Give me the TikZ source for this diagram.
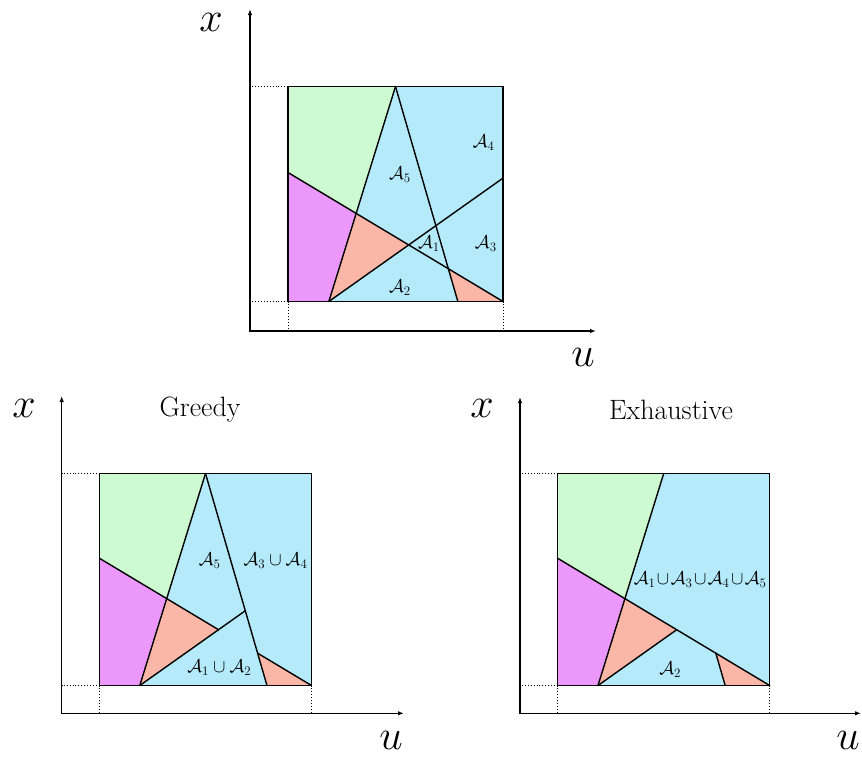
\RequirePackage{fix-cm}
\documentclass[tikz,border=0pt]{standalone}
\usetikzlibrary{arrows.meta}
\definecolor{regblue}{RGB}{180,234,250}
\definecolor{reggreen}{RGB}{206,250,210}
\definecolor{regmag}{RGB}{235,152,250}
\definecolor{regsalmon}{RGB}{250,182,166}
\tikzset{
  axisline/.style={line width=1.5pt, {Latex[length=6pt,width=4.5pt]}-{Latex[length=6pt,width=4.5pt]}},
  guide/.style={dotted, line width=0.9pt},
  cut/.style={line width=1.4pt, line cap=round},
  frame/.style={line width=1.5pt},
  axlabel/.style={font=\fontsize{42}{48}\selectfont, inner sep=0pt},
  paneltitle/.style={font=\fontsize{28}{32}\selectfont, inner sep=0pt},
  region/.style={font=\fontsize{18.5}{22}\selectfont, inner sep=0pt},
}
\newcommand{\mkpanel}[1]{%
  \coordinate (#1O) at (0,0);
  \coordinate (#1TL) at (0,1);
  \coordinate (#1TR) at (1,1);
  \coordinate (#1BR) at (1,0);
  \coordinate (#1A) at (0,0.6);
  \coordinate (#1T) at (0.5,1);
  \coordinate (#1C) at (0.19,0);
  \coordinate (#1D) at (0.79,0);
  \coordinate (#1E) at (1,0.574);
  \coordinate (#1P) at (0.317,0.410);
  \coordinate (#1Q) at (0.5614,0.2632);
  \coordinate (#1R) at (0.7458,0.1525);
  \coordinate (#1S) at (0.6877,0.3527);
  \fill[regblue] (#1O) rectangle (#1TR);
  \fill[reggreen] (#1TL) -- (#1T) -- (#1P) -- (#1A) -- cycle;
  \fill[regmag] (#1A) -- (#1P) -- (#1C) -- (#1O) -- cycle;
  \fill[regsalmon] (#1P) -- (#1Q) -- (#1C) -- cycle;
  \fill[regsalmon] (#1R) -- (#1BR) -- (#1D) -- cycle;
}
\begin{document}
\begin{tikzpicture}[x=1pt,y=-1pt]
\useasboundingbox (0,0) rectangle (862,756);

% ---------------- top panel ----------------
\begin{scope}[shift={(288pt,-301.5pt)}, x={(215pt,0pt)}, y={(0pt,215pt)}]
  \mkpanel{t}
  \draw[cut] (tA) -- (tBR);
  \draw[cut] (tT) -- (tC);
  \draw[cut] (tT) -- (tD);
  \draw[cut] (tC) -- (tE);
  \draw[frame] (tO) rectangle (tTR);
  \node[region] (tl5) at (0.52,0.59) {$\mathcal{A}_5$};
  \node[region] (tl4) at (0.91,0.74) {$\mathcal{A}_4$};
  \node[region] (tl1) at (0.655,0.27) {$\mathcal{A}_1$};
  \node[region] (tl3) at (0.92,0.27) {$\mathcal{A}_3$};
  \node[region] (tl2) at (0.52,0.065) {$\mathcal{A}_2$};
\end{scope}
\coordinate (tOrig) at (250,331);
\coordinate (tYtip) at (250,9);
\coordinate (tXtip) at (596,331);
\draw[guide] (tTL) -- (tTL -| tOrig);
\draw[guide] (tO) -- (tO -| tOrig);
\draw[guide] (tO) -- (tO |- tOrig);
\draw[guide] (tBR) -- (tBR |- tOrig);
\draw[axisline] (tYtip) -- (tOrig) -- (tXtip);
\node[axlabel] (tx) at (211,22) {$x$};
\node[axlabel] (tu) at (583,357) {$u$};

% ---------------- greedy panel ----------------
\begin{scope}[shift={(99.5pt,-685.5pt)}, x={(212pt,0pt)}, y={(0pt,212pt)}]
  \mkpanel{g}
  \draw[cut] (gA) -- (gQ);
  \draw[cut] (gR) -- (gBR);
  \draw[cut] (gT) -- (gC);
  \draw[cut] (gT) -- (gD);
  \draw[cut] (gC) -- (gS);
  \draw[frame] (gO) rectangle (gTR);
  \node[region] (gl5) at (0.52,0.59) {$\mathcal{A}_5$};
  \node[region] (gl34) at (0.83,0.59) {$\mathcal{A}_3\cup\mathcal{A}_4$};
  \node[region] (gl12) at (0.565,0.085) {$\mathcal{A}_1\cup\mathcal{A}_2$};
\end{scope}
\coordinate (gOrig) at (61.7,713.3);
\coordinate (gYtip) at (61.7,396);
\coordinate (gXtip) at (404,713.3);
\draw[guide] (gTL) -- (gTL -| gOrig);
\draw[guide] (gO) -- (gO -| gOrig);
\draw[guide] (gO) -- (gO |- gOrig);
\draw[guide] (gBR) -- (gBR |- gOrig);
\draw[axisline] (gYtip) -- (gOrig) -- (gXtip);
\node[axlabel] (gx) at (24,408) {$x$};
\node[axlabel] (gu) at (391,740) {$u$};
\node[paneltitle] (gtitle) at (200,410) {Greedy};

% ---------------- exhaustive panel ----------------
\begin{scope}[shift={(557.7pt,-685.5pt)}, x={(212pt,0pt)}, y={(0pt,212pt)}]
  \mkpanel{e}
  \draw[cut] (eA) -- (eBR);
  \draw[cut] (eT) -- (eC);
  \draw[cut] (eC) -- (eQ);
  \draw[cut] (eR) -- (eD);
  \draw[frame] (eO) rectangle (eTR);
  \node[region] (el1345) at (0.672,0.50) {\medmuskip=1.5mu $\mathcal{A}_1\cup\mathcal{A}_3\cup\mathcal{A}_4\cup\mathcal{A}_5$};
  \node[region] (el2) at (0.53,0.075) {$\mathcal{A}_2$};
\end{scope}
\coordinate (eOrig) at (520,713.3);
\coordinate (eYtip) at (520,397);
\coordinate (eXtip) at (861,713.3);
\draw[guide] (eTL) -- (eTL -| eOrig);
\draw[guide] (eO) -- (eO -| eOrig);
\draw[guide] (eO) -- (eO |- eOrig);
\draw[guide] (eBR) -- (eBR |- eOrig);
\draw[axisline] (eYtip) -- (eOrig) -- (eXtip);
\node[axlabel] (ex) at (482,408) {$x$};
\node[axlabel] (eu) at (848,740) {$u$};
\node[paneltitle] (etitle) at (671,410) {Exhaustive};
\end{tikzpicture}
\end{document}
